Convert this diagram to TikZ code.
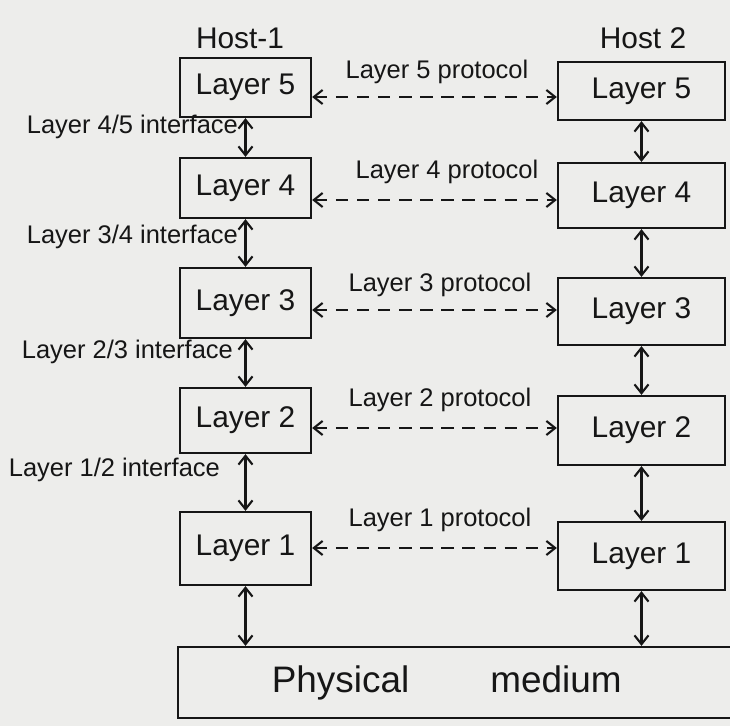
\documentclass[tikz,border=0pt]{standalone}
\usepackage{fontspec}
\setmainfont{Liberation Sans}
\usetikzlibrary{arrows.meta}
\definecolor{paper}{HTML}{EDEDEB}
\definecolor{ink}{HTML}{161616}
\begin{document}
\begin{tikzpicture}[x=0.02cm,y=-0.02cm,
  ink/.style={draw=ink,line width=1.3pt},
  layerbox/.style={ink,rectangle,inner sep=0pt,font=\fontsize{17}{20}\selectfont,text=ink},
  iface/.style={font=\fontsize{14.5}{17}\selectfont,text=ink,anchor=east,inner sep=1pt},
  protolabel/.style={font=\fontsize{14.5}{17}\selectfont,text=ink,inner sep=1pt},
  hostlabel/.style={font=\fontsize{17}{20}\selectfont,text=ink},
  updown/.style={draw=ink,line width=1.2pt,{Straight Barb[length=5pt,width=8pt]}-{Straight Barb[length=5pt,width=8pt]}},
  proto/.style={draw=ink,line width=1.2pt,dash pattern=on 7pt off 5pt,{Straight Barb[length=5pt,width=8pt]}-{Straight Barb[length=5pt,width=8pt]}}]
  % page
  \fill[paper] (0,0) rectangle (730,726);
  \useasboundingbox (0,0) rectangle (730,726);

  % host titles
  \node[hostlabel] (h1) at (240,38) {Host-1};
  \node[hostlabel] (h2) at (643,38) {Host 2};

  % host 1 stack
  \node[layerbox,minimum width=131*0.02cm,minimum height=59*0.02cm] (l5) at (245.5,87.5) {Layer 5};
  \node[layerbox,minimum width=131*0.02cm,minimum height=60*0.02cm] (l4) at (245.5,188) {Layer 4};
  \node[layerbox,minimum width=131*0.02cm,minimum height=70*0.02cm] (l3) at (245.5,303) {Layer 3};
  \node[layerbox,minimum width=131*0.02cm,minimum height=65*0.02cm] (l2) at (245.5,420.5) {Layer 2};
  \node[layerbox,minimum width=131*0.02cm,minimum height=73*0.02cm] (l1) at (245.5,548.5) {Layer 1};

  % host 2 stack
  \node[layerbox,minimum width=167*0.02cm,minimum height=58*0.02cm] (r5) at (641.5,91) {Layer 5};
  \node[layerbox,minimum width=167*0.02cm,minimum height=65*0.02cm] (r4) at (641.5,195.5) {Layer 4};
  \node[layerbox,minimum width=167*0.02cm,minimum height=67*0.02cm] (r3) at (641.5,311.5) {Layer 3};
  \node[layerbox,minimum width=167*0.02cm,minimum height=69*0.02cm] (r2) at (641.5,430.5) {Layer 2};
  \node[layerbox,minimum width=167*0.02cm,minimum height=68*0.02cm] (r1) at (641.5,556) {Layer 1};

  % shared medium (runs off the right edge)
  \node[layerbox,minimum width=567*0.02cm,minimum height=71*0.02cm,font=\fontsize{21}{24}\selectfont] (phys) at (461.5,682.5) {\hspace*{-0.8em}Physical\hspace{2.2em}medium};

  % interfaces between adjacent layers
  \draw[updown] (l5.south) -- (l4.north);
  \draw[updown] (l4.south) -- (l3.north);
  \draw[updown] (l3.south) -- (l2.north);
  \draw[updown] (l2.south) -- (l1.north);
  \draw[updown] (l1.south) -- (l1.south |- phys.north);
  \draw[updown] (r5.south) -- (r4.north);
  \draw[updown] (r4.south) -- (r3.north);
  \draw[updown] (r3.south) -- (r2.north);
  \draw[updown] (r2.south) -- (r1.north);
  \draw[updown] (r1.south) -- (r1.south |- phys.north);

  \node[iface] (i45) at (240,127) {Layer 4/5 interface};
  \node[iface] (i34) at (240,237) {Layer 3/4 interface};
  \node[iface] (i23) at (235,352) {Layer 2/3 interface};
  \node[iface] (i12) at (222,470) {Layer 1/2 interface};

  % peer protocols
  \draw[proto] (l5.east |- 0,97) -- (r5.west |- 0,97);
  \draw[proto] (l4.east |- 0,200) -- (r4.west |- 0,200);
  \draw[proto] (l3.east |- 0,310) -- (r3.west |- 0,310);
  \draw[proto] (l2.east |- 0,428) -- (r2.west |- 0,428);
  \draw[proto] (l1.east |- 0,548) -- (r1.west |- 0,548);

  \node[protolabel] (p5) at (437,72) {Layer 5 protocol};
  \node[protolabel] (p4) at (447,172) {Layer 4 protocol};
  \node[protolabel] (p3) at (440,285) {Layer 3 protocol};
  \node[protolabel] (p2) at (440,400) {Layer 2 protocol};
  \node[protolabel] (p1) at (440,520) {Layer 1 protocol};
\end{tikzpicture}
\end{document}
